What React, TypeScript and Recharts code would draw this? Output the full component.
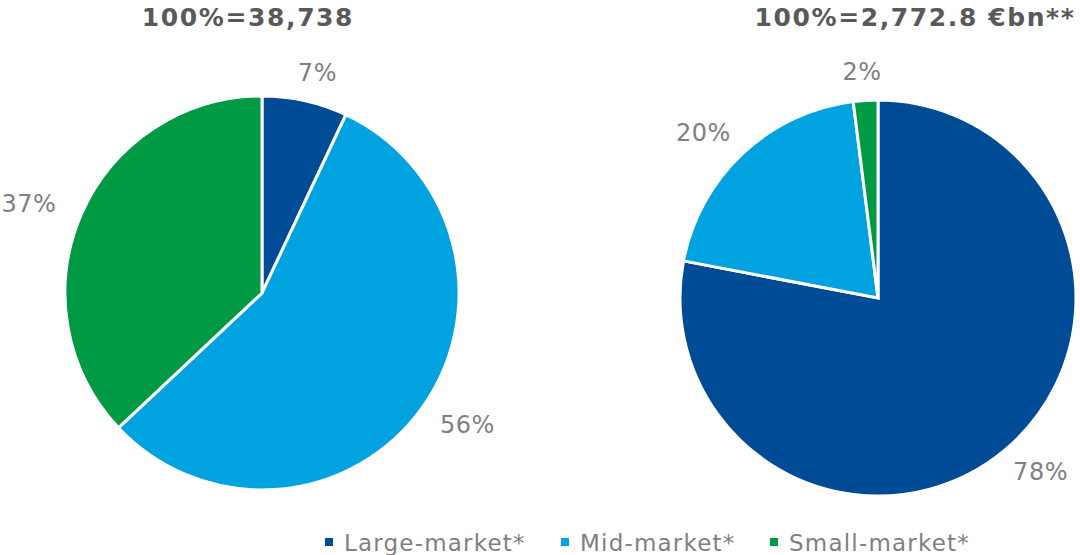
import { PieChart, Pie, Cell } from "recharts";

const segments = ["Large-market*", "Mid-market*", "Small-market*"];
const countShares = [7, 56, 37];
const volumeShares = [78, 20, 2];
const titles = ["100%=38,738", "100%=2,772.8 €bn**"];

const COLORS = ["#004b96", "#00a3e0", "#009a44"];
const FONT = "'DejaVu Sans', Verdana, sans-serif";

const leftData = segments.map((name, i) => ({ name, value: countShares[i] }));
const rightData = segments.map((name, i) => ({ name, value: volumeShares[i] }));

const RAD = Math.PI / 180;

// outside-end labels, wider reach sideways than up/down (text is wider than tall)
function renderLabel(props: any) {
  const { cx, cy, midAngle, outerRadius, value } = props;
  const c = Math.cos(-midAngle * RAD);
  const s = Math.sin(-midAngle * RAD);
  return (
    <text
      x={cx + (outerRadius + 57) * c}
      y={cy + (outerRadius + 28) * s}
      fill="#808080"
      fontSize={24}
      letterSpacing={0.5}
      fontFamily={FONT}
      textAnchor="middle"
      dominantBaseline="central"
    >
      {`${value}%`}
    </text>
  );
}

export default function App() {
  return (
    <div style={{ position: "absolute", left: 0, top: 0, width: 1080, height: 555, background: "#fff", overflow: "hidden", fontFamily: FONT }}>
      <PieChart width={1080} height={555} margin={{ top: 0, right: 0, bottom: 0, left: 0 }}>
        <Pie
          data={leftData}
          dataKey="value"
          nameKey="name"
          cx={262}
          cy={293}
          outerRadius={197}
          startAngle={90}
          endAngle={-270}
          stroke="#ffffff"
          strokeWidth={3}
          label={renderLabel}
          labelLine={false}
          isAnimationActive={false}
        >
          {leftData.map((d, i) => (
            <Cell key={d.name} fill={COLORS[i]} />
          ))}
        </Pie>
        <Pie
          data={rightData}
          dataKey="value"
          nameKey="name"
          cx={878}
          cy={298}
          outerRadius={198}
          startAngle={90}
          endAngle={-270}
          stroke="#ffffff"
          strokeWidth={3}
          label={renderLabel}
          labelLine={false}
          isAnimationActive={false}
        >
          {rightData.map((d, i) => (
            <Cell key={d.name} fill={COLORS[i]} />
          ))}
        </Pie>
      </PieChart>
      {[248, 915].map((x, i) => (
        <div
          key={titles[i]}
          style={{
            position: "absolute",
            left: x - 250,
            width: 500,
            top: 3,
            textAlign: "center",
            fontSize: 25,
            fontWeight: "bold",
            letterSpacing: 1.6,
            color: "#595959",
            lineHeight: "30px",
          }}
        >
          {titles[i]}
        </div>
      ))}
      {[325, 561, 770].map((x, i) => (
        <div
          key={segments[i]}
          style={{ position: "absolute", left: x, top: 529, height: 28, color: "#7f7f7f", fontSize: 23, letterSpacing: 1.2, lineHeight: "28px", whiteSpace: "nowrap" }}
        >
          <span style={{ position: "absolute", left: 0, top: 9, width: 8, height: 8, background: COLORS[i] }} />
          <span style={{ marginLeft: 19 }}>{segments[i]}</span>
        </div>
      ))}
    </div>
  );
}
